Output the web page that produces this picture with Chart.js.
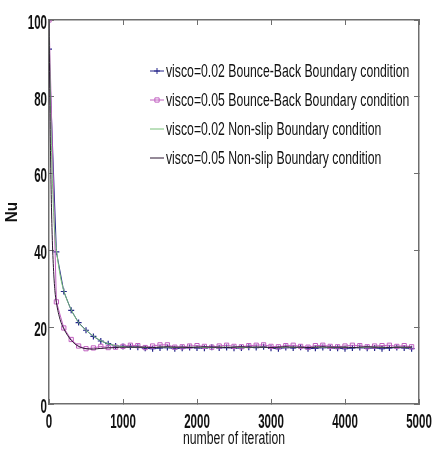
<!DOCTYPE html>
<html>
<head>
<meta charset="utf-8">
<script src="https://cdn.jsdelivr.net/npm/chart.js@4.4.1/dist/chart.umd.min.js"></script>
<style>
  html, body { margin: 0; padding: 0; background: #fff; }
</style>
</head>
<body>
<canvas id="chart" width="432" height="457"></canvas>
<script>
// iterations where the Bounce-Back runs were sampled (every 100)
const iterBB = [0, 100, 200, 300, 400, 500, 600, 700, 800, 900,
  1000, 1100, 1200, 1300, 1400, 1500, 1600, 1700, 1800, 1900,
  2000, 2100, 2200, 2300, 2400, 2500, 2600, 2700, 2800, 2900,
  3000, 3100, 3200, 3300, 3400, 3500, 3600, 3700, 3800, 3900,
  4000, 4100, 4200, 4300, 4400, 4500, 4600, 4700, 4800, 4900];

// Non-slip runs have a few extra samples at the very start
const iterNS = [0, 20, 40, 60, 80, 100, 150].concat(iterBB.slice(2));

const bb002 = [92.4, 39.6, 29.3, 24.4, 21.2, 19.2, 17.6, 16.4, 15.7, 15.1,
  15.0, 14.9, 14.8, 14.5, 14.4, 14.6, 14.7, 14.4, 14.5, 14.7,
  14.6, 14.5, 14.8, 14.6, 14.7, 14.5, 14.6, 14.8, 14.7, 14.9,
  14.5, 14.4, 14.7, 14.6, 14.8, 14.4, 14.5, 14.7, 14.6, 14.5,
  14.4, 14.6, 14.7, 14.5, 14.6, 14.4, 14.6, 14.7, 14.6, 14.4];

const bb005 = [100, 26.6, 19.8, 16.8, 15.1, 14.4, 14.6, 15.0, 14.7, 14.8,
  15.0, 15.3, 15.2, 14.7, 15.1, 15.4, 15.4, 14.8, 14.9, 15.1,
  15.2, 15.0, 14.8, 15.1, 15.3, 15.0, 14.9, 15.2, 15.3, 15.4,
  15.0, 14.9, 15.2, 15.3, 15.0, 14.8, 15.2, 15.3, 15.0, 14.9,
  15.1, 15.3, 15.2, 14.9, 15.1, 15.2, 15.3, 15.0, 15.2, 14.9];

const ns002 = [100, 78, 62, 51, 44, 40.2, 33.6,
  29.5, 24.6, 21.2, 19.2, 17.7, 16.5, 15.7, 15.2, 14.9, 14.8,
  14.8, 14.7, 14.7, 14.8, 14.8, 14.7, 14.7, 14.8, 14.8, 14.7,
  14.7, 14.8, 14.8, 14.8, 14.7, 14.7, 14.8, 14.8, 14.7, 14.7,
  14.8, 14.8, 14.7, 14.7, 14.8, 14.8, 14.7, 14.7, 14.8, 14.7,
  14.7, 14.8, 14.8, 14.7, 14.7, 14.8, 14.7, 14.7];

const ns005 = [100, 66, 46, 35.5, 29.5, 26.4, 22.0,
  19.6, 16.6, 15.0, 14.4, 14.3, 14.5, 14.6, 14.7, 14.8, 14.8,
  14.8, 14.8, 14.7, 14.8, 14.9, 14.8, 14.8, 14.7, 14.8, 14.9,
  14.8, 14.8, 14.7, 14.8, 14.9, 14.8, 14.8, 14.8, 14.7, 14.8,
  14.9, 14.8, 14.8, 14.7, 14.8, 14.9, 14.8, 14.8, 14.8, 14.7,
  14.8, 14.9, 14.8, 14.8, 14.7, 14.8, 14.8, 14.8];

const labels = [
  'visco=0.02 Bounce-Back Boundary condition',
  'visco=0.05 Bounce-Back Boundary condition',
  'visco=0.02 Non-slip Boundary condition',
  'visco=0.05 Non-slip Boundary condition'
];
const xTitle = 'number of iteration';
const yTitle = 'Nu';

const FONT = '"Liberation Sans", Arial, sans-serif';
const AXIS = '#6e6e6e';

function pts(xs, ys) {
  return xs.map((x, i) => ({ x: x, y: ys[i] }));
}

// the original uses a very narrow font, so text is squeezed sideways
function narrowText(ctx, text, x, y, font, sx, align, baseline, rot) {
  ctx.save();
  ctx.translate(x, y);
  if (rot) ctx.rotate(rot);
  ctx.scale(sx, 1);
  ctx.font = font;
  ctx.textAlign = align;
  ctx.textBaseline = baseline;
  ctx.fillStyle = '#111';
  ctx.fillText(text, 0, 0);
  ctx.restore();
}

// legend drawn inside the plot, like the MATLAB one
const innerLegend = {
  id: 'innerLegend',
  afterDatasetsDraw(chart) {
    const { ctx, chartArea } = chart;
    const x0 = chartArea.left + 101;
    const y0 = chartArea.top + 51;
    chart.data.datasets.forEach((ds, i) => {
      const y = y0 + i * 29;
      ctx.save();
      ctx.strokeStyle = ds.borderColor;
      ctx.lineWidth = 1;
      ctx.beginPath();
      ctx.moveTo(x0, y);
      ctx.lineTo(x0 + 14, y);
      ctx.stroke();
      if (ds.pointRadius > 0) {
        ctx.fillStyle = 'rgba(0,0,0,0)';
        ctx.strokeStyle = ds.pointBorderColor;
        Chart.helpers.drawPoint(ctx, { pointStyle: ds.pointStyle, radius: 3, borderWidth: 1 }, x0 + 7, y);
      }
      ctx.restore();
      narrowText(ctx, ds.label, x0 + 16, y + 1, '18px ' + FONT, 0.68, 'left', 'middle');
    });
  }
};

// tick labels and axis titles, placed from the scales
const axisText = {
  id: 'axisText',
  afterDraw(chart) {
    const { ctx, chartArea, scales } = chart;
    const tickFont = 'bold 21px ' + FONT;
    scales.y.ticks.forEach(t => {
      narrowText(ctx, String(t.value), chartArea.left - 2, scales.y.getPixelForValue(t.value) + 3,
        tickFont, 0.55, 'right', 'middle');
    });
    scales.x.ticks.forEach(t => {
      narrowText(ctx, String(t.value), scales.x.getPixelForValue(t.value), chartArea.bottom + 18,
        tickFont, 0.55, 'center', 'middle');
    });
    narrowText(ctx, xTitle, (chartArea.left + chartArea.right) / 2, chartArea.bottom + 35,
      '18px ' + FONT, 0.68, 'center', 'middle');
    narrowText(ctx, yTitle, 12, (chartArea.top + chartArea.bottom) / 2,
      'bold 17px ' + FONT, 0.9, 'center', 'middle', -Math.PI / 2);
  }
};

new Chart(document.getElementById('chart'), {
  type: 'line',
  data: {
    datasets: [
      {
        label: labels[0], data: pts(iterBB, bb002), order: 4,
        borderColor: '#25258a', borderWidth: 1,
        pointStyle: 'cross', pointRadius: 3, pointBorderColor: '#25258a', pointBorderWidth: 1.2
      },
      {
        label: labels[1], data: pts(iterBB, bb005), order: 3,
        borderColor: '#c060c0', borderWidth: 1,
        pointStyle: 'rect', pointRadius: 3, pointBorderColor: '#c060c0',
        pointBackgroundColor: 'rgba(0,0,0,0)', pointBorderWidth: 1
      },
      {
        label: labels[2], data: pts(iterNS, ns002), order: 2,
        borderColor: '#78c078', borderWidth: 1, pointRadius: 0,
        cubicInterpolationMode: 'monotone'
      },
      {
        label: labels[3], data: pts(iterNS, ns005), order: 1,
        borderColor: '#2a1530', borderWidth: 1, pointRadius: 0,
        cubicInterpolationMode: 'monotone'
      }
    ]
  },
  options: {
    responsive: false,
    animation: false,
    devicePixelRatio: 1,
    layout: { padding: { top: 20, right: 13, left: 0, bottom: 0 } },
    plugins: { legend: { display: false }, tooltip: { enabled: false } },
    scales: {
      x: {
        type: 'linear', min: 0, max: 5000,
        ticks: { stepSize: 1000, display: false },
        grid: { drawOnChartArea: false, tickLength: -5, color: AXIS },
        border: { color: AXIS, width: 1.5 },
        afterFit(s) { s.height = 53; }
      },
      y: {
        min: 0, max: 100,
        ticks: { stepSize: 20, display: false },
        grid: { drawOnChartArea: false, tickLength: -5, color: AXIS },
        border: { color: AXIS, width: 1.5 },
        afterFit(s) { s.width = 49; }
      },
      x2: {
        type: 'linear', position: 'top', min: 0, max: 5000,
        ticks: { stepSize: 1000, display: false },
        grid: { drawOnChartArea: false, tickLength: -5, color: AXIS },
        border: { color: AXIS, width: 1.5 },
        afterFit(s) { s.height = 0; }
      },
      y2: {
        position: 'right', min: 0, max: 100,
        ticks: { stepSize: 20, display: false },
        grid: { drawOnChartArea: false, tickLength: -5, color: AXIS },
        border: { color: AXIS, width: 1.5 },
        afterFit(s) { s.width = 0; }
      }
    }
  },
  plugins: [innerLegend, axisText]
});
</script>
</body>
</html>
